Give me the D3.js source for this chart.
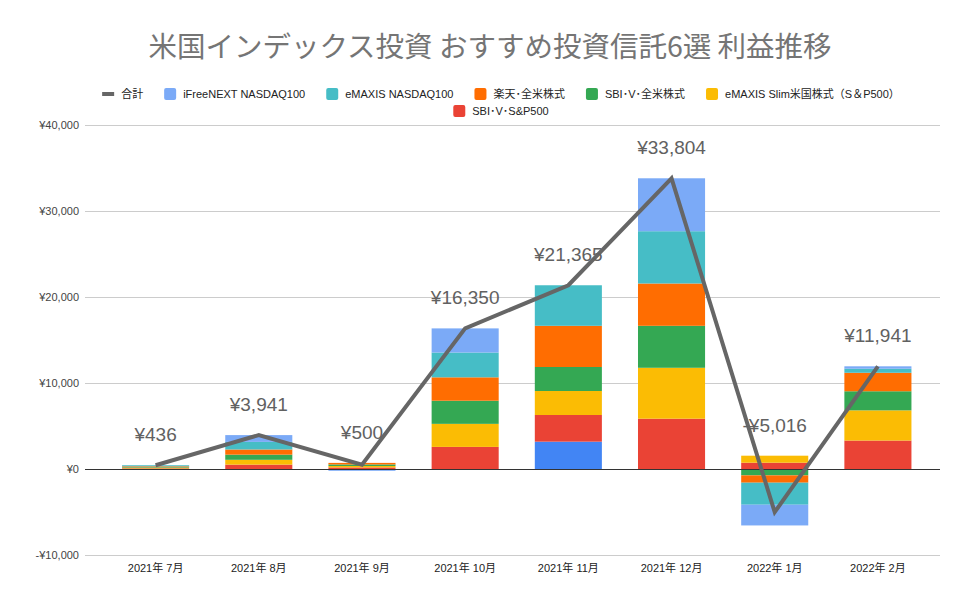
<!DOCTYPE html>
<html lang="ja">
<head>
    <meta charset="UTF-8">
    <title>利益推移</title>
    <style>
        body { margin: 0; background: #fff; }
        #chart { font-family: "Liberation Sans", Arial, "Noto Sans CJK JP", sans-serif; }
        .grid line { stroke: #cccccc; stroke-width: 1px; shape-rendering: crispEdges; }
        .tick-label { font-size: 11px; fill: #444; }
    </style>
    <script src="https://d3js.org/d3.v7.min.js"></script>
</head>
<body>
    <div id="chart"></div>
    <script>
        // categories
        const months = ['2021年 7月', '2021年 8月', '2021年 9月', '2021年 10月', '2021年 11月', '2021年 12月', '2022年 1月', '2022年 2月'];

        // series (yen)
        const total        = [436, 3941, 500, 16350, 21365, 33804, -5016, 11941];
        const iFreeNext    = [0, 791, -150, 2810, 0, 6154, -2410, 281];
        const eMaxisNasdaq = [126, 880, -60, 2880, 4715, 6080, -2560, 470];
        const rakutenVti   = [90, 600, 180, 2720, 4790, 4920, -849, 2150];
        const sbiVti       = [70, 600, 180, 2690, 2790, 4880, -744, 2220];
        const eMaxisSlim   = [80, 560, 170, 2680, 2790, 5920, 814, 3510];
        const sbiVoo       = [70, 510, 180, 2570, 3100, 5850, 733, 3310];
        const other        = [0, 0, 0, 0, 3180, 0, 0, 0];

        const yTicks = [-10000, 0, 10000, 20000, 30000, 40000];

        // series definitions, bottom of stack first
        const series = [
            { name: 'その他', values: other, color: '#4285f4', legend: false },
            { name: 'SBI･V･S&P500', values: sbiVoo, color: '#ea4335', legend: true },
            { name: 'eMAXIS Slim米国株式（S＆P500）', values: eMaxisSlim, color: '#fbbc04', legend: true },
            { name: 'SBI･V･全米株式', values: sbiVti, color: '#34a853', legend: true },
            { name: '楽天･全米株式', values: rakutenVti, color: '#ff6d01', legend: true },
            { name: 'eMAXIS NASDAQ100', values: eMaxisNasdaq, color: '#46bdc6', legend: true },
            { name: 'iFreeNEXT NASDAQ100', values: iFreeNext, color: '#7baaf7', legend: true }
        ];

        const W = 978, H = 606;
        const gridLeft = 85, gridRight = 940;
        const plotLeft = 104, plotRight = 929.5;

        const svg = d3.select('#chart').append('svg')
            .attr('width', W).attr('height', H);

        // title
        svg.append('text')
            .attr('x', 490).attr('y', 57)
            .attr('text-anchor', 'middle')
            .style('font-family', '"Noto Sans CJK JP", sans-serif')
            .style('font-size', '28.5px')
            .style('fill', '#757575')
            .text('米国インデックス投資 おすすめ投資信託6選 利益推移');

        const x = d3.scaleBand()
            .domain(months)
            .range([plotLeft, plotRight])
            .paddingInner(0.35)
            .paddingOuter(0.175);

        const y = d3.scaleLinear()
            .domain([-10000, 40000])
            .range([555, 125]);

        // grid lines
        svg.append('g').attr('class', 'grid')
            .selectAll('line')
            .data(yTicks.filter(d => d !== 0))
            .enter().append('line')
            .attr('x1', gridLeft).attr('x2', gridRight)
            .attr('y1', d => Math.round(y(d)) + 0.5).attr('y2', d => Math.round(y(d)) + 0.5);

        // y axis labels
        const yFmt = d => (d < 0 ? '-¥' : '¥') + d3.format(',')(Math.abs(d));
        svg.append('g')
            .selectAll('text')
            .data(yTicks)
            .enter().append('text')
            .attr('class', 'tick-label')
            .attr('x', 79)
            .attr('y', d => y(d) + 4)
            .attr('text-anchor', 'end')
            .text(yFmt);

        // stacked bars
        const table = months.map((m, i) => {
            const row = { month: m };
            series.forEach(s => { row[s.name] = s.values[i]; });
            return row;
        });
        const stack = d3.stack()
            .keys(series.map(s => s.name))
            .offset(d3.stackOffsetDiverging)(table);

        const layers = svg.append('g').selectAll('g')
            .data(stack)
            .enter().append('g')
            .attr('fill', (d, i) => series[i].color);

        layers.selectAll('rect')
            .data(d => d)
            .enter().append('rect')
            .attr('x', d => x(d.data.month))
            .attr('width', x.bandwidth())
            .attr('y', d => y(Math.max(d[0], d[1])))
            .attr('height', d => Math.abs(y(d[0]) - y(d[1])));

        // zero line
        svg.append('line')
            .attr('x1', gridLeft).attr('x2', gridRight)
            .attr('y1', Math.round(y(0)) + 0.5).attr('y2', Math.round(y(0)) + 0.5)
            .attr('stroke', '#333').attr('stroke-width', 1)
            .style('shape-rendering', 'crispEdges');

        // x axis labels
        svg.append('g')
            .selectAll('text')
            .data(months)
            .enter().append('text')
            .attr('class', 'tick-label')
            .attr('x', d => x(d) + x.bandwidth() / 2)
            .attr('y', 572)
            .attr('text-anchor', 'middle')
            .style('fill', '#222')
            .text(d => d);

        // total line
        const line = d3.line()
            .x((d, i) => x(months[i]) + x.bandwidth() / 2)
            .y(d => y(d));

        svg.append('path')
            .datum(total)
            .attr('fill', 'none')
            .attr('stroke', '#666666')
            .attr('stroke-width', 4)
            .attr('stroke-linejoin', 'miter')
            .attr('d', line);

        // total labels, placed above the higher of point / bar top
        const posTop = months.map((m, i) => d3.sum(series, s => Math.max(0, s.values[i])));
        svg.append('g')
            .selectAll('text')
            .data(total)
            .enter().append('text')
            .attr('x', (d, i) => x(months[i]) + x.bandwidth() / 2)
            .attr('y', (d, i) => Math.min(y(d), y(posTop[i])) - 24)
            .attr('text-anchor', 'middle')
            .style('font-size', '19px')
            .style('fill', '#616161')
            .text(yFmt);

        // legend
        const legendItems = [{ name: '合計', line: true }]
            .concat(series.slice().reverse().filter(s => s.legend));
        const rows = [legendItems.slice(0, 6), legendItems.slice(6)];
        const legend = svg.append('g').style('font-size', '11px');

        function layoutRow(items, cy) {
            const g = legend.append('g');
            let cx = 0;
            const gap = 21;
            items.forEach(it => {
                const item = g.append('g').attr('transform', `translate(${cx},0)`);
                if (it.line) {
                    item.append('rect').attr('x', 0).attr('y', cy - 2).attr('width', 12).attr('height', 4)
                        .attr('fill', '#666666');
                } else {
                    item.append('rect').attr('x', 0).attr('y', cy - 6).attr('width', 12).attr('height', 12)
                        .attr('rx', 2).attr('fill', it.color);
                }
                const t = item.append('text')
                    .attr('x', 19).attr('y', cy + 4)
                    .style('fill', '#222')
                    .text(it.name);
                cx += 19 + t.node().getComputedTextLength() + gap;
            });
            const width = cx - gap;
            g.attr('transform', `translate(${(W - width) / 2 + 12},0)`);
        }
        layoutRow(rows[0], 94);
        layoutRow(rows[1], 111);
    </script>
</body>
</html>
